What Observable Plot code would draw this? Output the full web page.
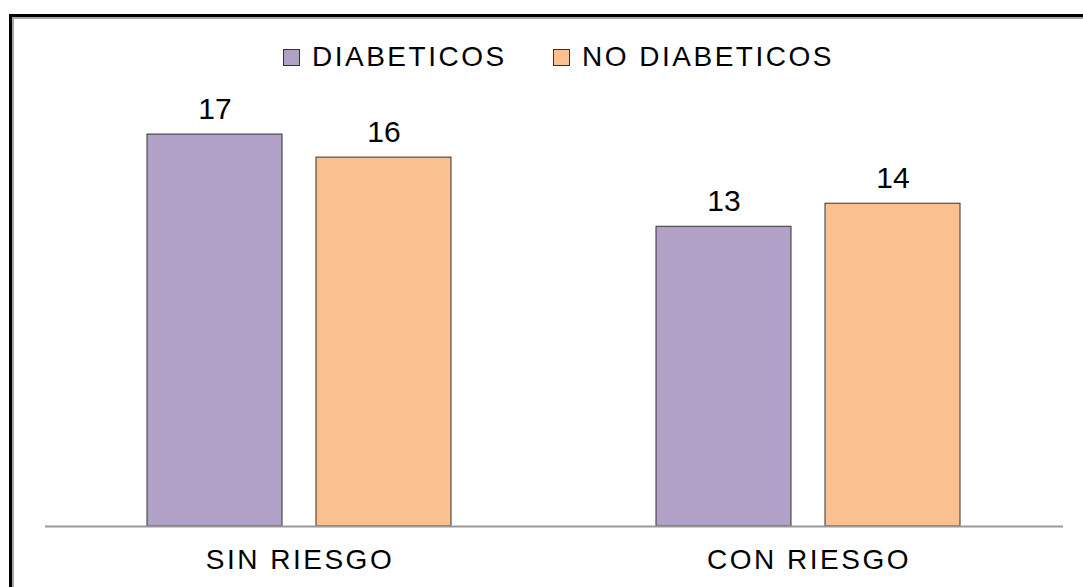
<!DOCTYPE html>
<html>
<head>
<meta charset="utf-8">
<script src="https://cdn.jsdelivr.net/npm/d3@7"></script>
<script src="https://cdn.jsdelivr.net/npm/@observablehq/plot@0.6"></script>
<style>
  html, body { margin: 0; padding: 0; background: #fff; }
  #wrap { position: relative; width: 1083px; height: 587px; overflow: hidden; font-family: "Liberation Sans", Arial, sans-serif; }
  #frame { position: absolute; left: 9px; top: 14px; width: 1200px; height: 700px; border-left: 3px solid #000; border-top: 3px solid #000; box-shadow: inset 2px 2px 0 #a6a6a6; box-sizing: border-box; }
  #legend { position: absolute; left: 0; top: 0; width: 1083px; height: 80px; }
  .item { position: absolute; top: 40px; display: flex; align-items: center; font-size: 28px; letter-spacing: 2.5px; color: #000; line-height: 34px; }
  .sw { box-sizing: border-box; flex: 0 0 17px; width: 17px; height: 17px; border: 1px solid #333; margin-right: 12px; }
  #chart { position: absolute; left: 0; top: 80px; }
  #chart g[aria-label="fx-axis tick label"] text { letter-spacing: 2.5px; }
</style>
</head>
<body>
<div id="wrap">
  <div id="frame"></div>
  <div id="legend"></div>
  <div id="chart"></div>
</div>
<script>
const categories = ["SIN RIESGO", "CON RIESGO"];
const groups = ["DIABETICOS", "NO DIABETICOS"];
const diabeticos = [17, 13];
const noDiabeticos = [16, 14];
const colors = ["#B2A1C7", "#FAC090"];

const data = [];
categories.forEach((c, i) => {
  data.push({cat: c, group: groups[0], value: diabeticos[i]});
  data.push({cat: c, group: groups[1], value: noDiabeticos[i]});
});

// Legend
const legend = document.getElementById("legend");
const legendX = [283, 553];
groups.forEach((g, i) => {
  const it = document.createElement("div");
  it.className = "item";
  it.style.left = legendX[i] + "px";
  const sw = document.createElement("div");
  sw.className = "sw";
  sw.style.background = colors[i];
  const t = document.createElement("span");
  t.textContent = g;
  it.appendChild(sw);
  it.appendChild(t);
  legend.appendChild(it);
});

const chart = Plot.plot({
  width: 1083,
  height: 507,
  marginLeft: 45,
  marginRight: 20,
  marginTop: 31,
  marginBottom: 61,
  style: {fontFamily: "'Liberation Sans', Arial, sans-serif", background: "transparent", overflow: "visible"},
  fx: {domain: categories, padding: 0, label: null},
  x: {domain: groups, paddingInner: 0.2, paddingOuter: 0.6, axis: null},
  y: {domain: [0, 18], axis: null},
  color: {domain: groups, range: colors},
  marks: [
    Plot.barY(data, {fx: "cat", x: "group", y: "value", fill: "group", stroke: "#333", strokeWidth: 1}),
    Plot.ruleY([0], {stroke: "#999", strokeWidth: 2}),
    Plot.text(data, {fx: "cat", x: "group", y: "value", text: d => String(d.value), fontSize: 30, fill: "#000", lineAnchor: "bottom", dy: -16}),
    Plot.axisFx({anchor: "bottom", tickSize: 0, tickPadding: 23, fontSize: 28, label: null, fill: "#000"})
  ]
});
document.getElementById("chart").appendChild(chart);
</script>
</body>
</html>
